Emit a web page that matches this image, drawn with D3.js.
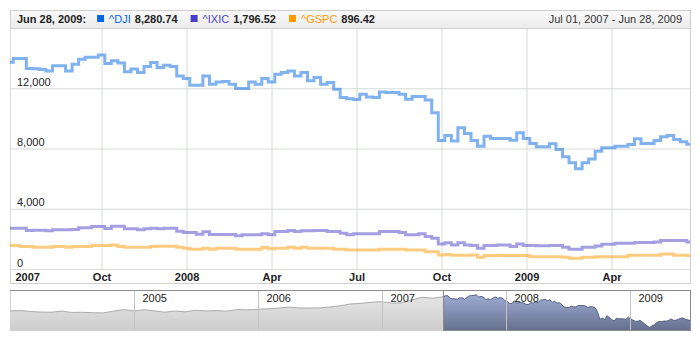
<!DOCTYPE html>
<html><head><meta charset="utf-8">
<script src="https://cdn.jsdelivr.net/npm/d3@7"></script>
<style>
html,body{margin:0;padding:0;background:#fff;}
svg{display:block;font-family:"Liberation Sans",Arial,sans-serif;}
</style></head><body>
<svg id="chart" width="700" height="340"></svg>
<script>
// ---------- data ----------
const startDate = new Date(2007, 6, 1); // first weekly point
const djiValues = [
 13730,13980,13980,13310,13300,13250,13150,13490,13490,13150,
 13600,13930,14050,14050,14200,13650,13820,13670,13090,13270,
 13050,13450,13710,13380,13530,13450,12820,12650,12200,12200,
 12820,12270,12420,12450,12270,11980,11980,12420,12270,12650,
 12420,12930,13050,13150,12820,13050,12490,12710,12270,12380,
 11930,11380,11310,11250,11600,11420,11380,11750,11710,11710,
 11600,11270,11450,11450,11220,10380,8530,8870,8490,9380,
 9000,8530,8150,8820,8670,8670,8670,8550,9050,8670,
 8330,8110,8110,8310,7930,7450,7050,6650,7050,7310,
 7820,8050,8050,8150,8150,8270,8650,8330,8330,8530,
 8780,8870,8600,8450,8280.74];
const ixicValues = [
 2713,2713,2713,2553,2580,2580,2533,2600,2600,2600,
 2620,2733,2733,2820,2820,2690,2840,2840,2667,2667,
 2600,2667,2710,2667,2710,2710,2510,2420,2420,2310,
 2470,2290,2290,2290,2290,2200,2267,2267,2267,2333,
 2267,2490,2490,2553,2490,2533,2533,2553,2553,2490,
 2490,2380,2267,2333,2333,2333,2333,2490,2490,2490,
 2420,2267,2267,2333,2153,2047,1667,1750,1600,1750,
 1600,1553,1380,1553,1553,1600,1600,1500,1667,1553,
 1553,1540,1540,1553,1553,1447,1313,1313,1447,1447,
 1530,1647,1647,1713,1713,1713,1760,1760,1760,1800,
 1887,1887,1887,1887,1796.52];
const gspcValues = [
 1560,1560,1490,1490,1447,1447,1447,1490,1490,1447,
 1490,1490,1490,1560,1560,1560,1600,1490,1450,1450,
 1450,1450,1490,1510,1510,1510,1447,1380,1313,1313,
 1380,1313,1380,1380,1380,1313,1313,1313,1313,1420,
 1340,1380,1380,1447,1380,1447,1380,1380,1380,1380,
 1313,1313,1267,1267,1267,1267,1267,1313,1313,1313,
 1313,1267,1267,1267,1153,1153,933,960,910,910,
 910,933,780,890,890,890,890,890,890,890,
 820,820,820,820,820,780,713,713,780,780,
 820,820,820,820,820,910,910,910,910,910,
 1000,1000,910,910,896.42];
const seriesNames = ["^DJI", "^IXIC", "^GSPC"];
const seriesColors = ["#0066dd", "#4a3fc8", "#ff9900"];
const xTickDates = ["2007-07-01","2007-10-01","2008-01-01","2008-04-01","2008-07-01","2008-10-01","2009-01-01","2009-04-01"];
const xTickLabels = ["2007","Oct","2008","Apr","Jul","Oct","2009","Apr"];
const yTicks = [0, 4000, 8000, 12000];
// navigator history (monthly DJI, Jan 2004 - Jun 2007)
const navHistoryMonths = [
 "2004-01","2004-02","2004-03","2004-04","2004-05","2004-06","2004-07","2004-08","2004-09","2004-10","2004-11","2004-12",
 "2005-01","2005-02","2005-03","2005-04","2005-05","2005-06","2005-07","2005-08","2005-09","2005-10","2005-11","2005-12",
 "2006-01","2006-02","2006-03","2006-04","2006-05","2006-06","2006-07","2006-08","2006-09","2006-10","2006-11","2006-12",
 "2007-01","2007-02","2007-03","2007-04","2007-05","2007-06"];
const navHistoryValues = [
 10488,10583,10358,10226,10188,10435,10140,10174,10080,10027,10428,10783,
 10490,10766,10504,10193,10467,10275,10641,10482,10569,10440,10806,10718,
 10865,10993,11109,11367,11168,11150,11186,11381,11679,12081,12222,12463,
 12622,12268,12354,13063,13628,13409];
const navYearLabels = ["2005","2006","2007","2008","2009"];

// ---------- setup ----------
const svg = d3.select("#chart");
const defs = svg.append("defs");
const L = 10, R = 690, T = 28, B = 269;
const dates = djiValues.map((_, i) => d3.timeWeek.offset(startDate, i));
const x = d3.scaleLinear([0, dates.length - 1], [L, R]);
const y = d3.scaleLinear([0, 16000], [B, T]);
const series = [djiValues, ixicValues, gspcValues];

// frame
svg.append("rect").attr("x", L + .5).attr("y", 10.5).attr("width", R - L).attr("height", 273)
  .attr("fill", "#fff").attr("stroke", "#cfcfcf");

// grid + y axis
const yAxis = d3.axisRight(y).tickValues(yTicks).tickSize(R - L).tickFormat(d3.format(","));
const gy = svg.append("g").attr("transform", `translate(${L},0)`).call(yAxis);
gy.select(".domain").remove();
gy.selectAll("line").attr("stroke", "#d6dbd6");
gy.selectAll("text").attr("x", 7).attr("dy", -3).attr("text-anchor", "start")
  .attr("fill", "#222").attr("font-size", 11).attr("font-family", "Liberation Sans, Arial, sans-serif");

// x axis
const tickIdx = xTickDates.map(s => { const d = d3.isoParse(s); return dates.findIndex(dd => dd >= d); });
const xAxis = d3.axisBottom(x).tickValues(tickIdx).tickFormat((d, i) => xTickLabels[i])
  .tickSize(-(B - T)).tickPadding(4);
const gx = svg.append("g").attr("transform", `translate(0,${B})`).call(xAxis);
gx.select(".domain").remove();
gx.selectAll("line").attr("stroke", "#d6dbd6");
gx.selectAll("text").attr("fill", "#222").attr("font-weight", "bold").attr("font-size", 11)
  .attr("font-family", "Liberation Sans, Arial, sans-serif");
gx.selectAll(".tick").filter((d, i) => i === 0).select("text").attr("text-anchor", "start").attr("x", 5);
svg.append("line").attr("x1", L).attr("x2", R).attr("y1", B + .5).attr("y2", B + .5).attr("stroke", "#d6dbd6");

// lines
defs.append("clipPath").attr("id", "plotclip").append("rect").attr("x", L).attr("y", T).attr("width", R - L).attr("height", B - T + 2);
const lineGen = d3.line().x((d, i) => x(i)).y(d => y(d)).curve(d3.curveStep);
const gLines = svg.append("g").attr("clip-path", "url(#plotclip)");
series.slice().reverse().forEach((vals, k) => {
  const idx = series.length - 1 - k;
  gLines.append("path").attr("d", lineGen(vals)).attr("fill", "none")
    .attr("stroke", seriesColors[idx]).attr("stroke-opacity", 0.5).attr("stroke-width", 3)
    .attr("stroke-linejoin", "miter");
});

// header
const hg = defs.append("linearGradient").attr("id", "hdr").attr("x1", 0).attr("x2", 0).attr("y1", 0).attr("y2", 1);
hg.append("stop").attr("offset", 0).attr("stop-color", "#fafafa");
hg.append("stop").attr("offset", 1).attr("stop-color", "#ebebeb");
svg.append("rect").attr("x", L + .5).attr("y", 10.5).attr("width", R - L).attr("height", 18)
  .attr("fill", "url(#hdr)").attr("stroke", "#cfcfcf");
const fmtDate = d3.timeFormat("%b %d, %Y");
const fmtVal = d3.format(",.2f");
const last = dates[dates.length - 1];
let cx = 17;
const hy = 23;
const t0 = svg.append("text").attr("x", cx).attr("y", hy).attr("font-size", 11).attr("font-weight", "bold")
  .attr("fill", "#222").text(fmtDate(last) + ":");
cx += t0.node().getComputedTextLength() + 11;
series.forEach((vals, i) => {
  svg.append("rect").attr("x", cx).attr("y", 15).attr("width", 7).attr("height", 7).attr("fill", seriesColors[i]);
  cx += 12;
  const n = svg.append("text").attr("x", cx).attr("y", hy).attr("font-size", 11).attr("fill", seriesColors[i]).text(seriesNames[i]);
  cx += n.node().getComputedTextLength() + 4;
  const v = svg.append("text").attr("x", cx).attr("y", hy).attr("font-size", 11).attr("font-weight", "bold")
    .attr("fill", "#222").text(fmtVal(vals[vals.length - 1]));
  cx += v.node().getComputedTextLength() + 13;
});
svg.append("text").attr("x", 682).attr("y", hy).attr("text-anchor", "end").attr("font-size", 11)
  .attr("fill", "#333").text(fmtDate(dates[0]) + " - " + fmtDate(last));

// ---------- navigator ----------
const NT = 290, NB = 330;
const navX = d3.scaleTime([new Date(2004, 0, 1), last], [L, R]);
const navY = d3.scaleLinear([6100, 15300], [NB, NT]);
const navData = navHistoryMonths.map((m, i) => ({ d: d3.timeParse("%Y-%m")(m), v: navHistoryValues[i] }))
  .concat(dates.map((d, i) => ({ d, v: djiValues[i] })));
const selX = navX(dates[0]);
svg.append("rect").attr("x", L + .5).attr("y", NT + .5).attr("width", R - L).attr("height", NB - NT)
  .attr("fill", "#fff").attr("stroke", "#d0d0d0");
const ug = defs.append("linearGradient").attr("id", "ungr").attr("x1", 0).attr("x2", 0).attr("y1", 0).attr("y2", 1);
ug.append("stop").attr("offset", 0).attr("stop-color", "#e6e6e6");
ug.append("stop").attr("offset", 1).attr("stop-color", "#cdcdcd");
const sg = defs.append("linearGradient").attr("id", "selgr").attr("x1", 0).attr("x2", 0).attr("y1", 0).attr("y2", 1);
sg.append("stop").attr("offset", 0).attr("stop-color", "#9eabd2");
sg.append("stop").attr("offset", 1).attr("stop-color", "#667190");
defs.append("clipPath").attr("id", "unclip").append("rect").attr("x", L).attr("y", NT).attr("width", selX - L).attr("height", NB - NT);
defs.append("clipPath").attr("id", "selclip").append("rect").attr("x", selX).attr("y", NT).attr("width", R - selX).attr("height", NB - NT);
const area = d3.area().x(d => navX(d.d)).y0(NB).y1(d => navY(d.v));
const nline = d3.line().x(d => navX(d.d)).y(d => navY(d.v));
const gu = svg.append("g").attr("clip-path", "url(#unclip)");
gu.append("path").attr("d", area(navData)).attr("fill", "url(#ungr)");
gu.append("path").attr("d", nline(navData)).attr("fill", "none").attr("stroke", "#ababab").attr("stroke-width", 1);
const gs = svg.append("g").attr("clip-path", "url(#selclip)");
gs.append("path").attr("d", area(navData)).attr("fill", "url(#selgr)");
gs.append("path").attr("d", nline(navData)).attr("fill", "none").attr("stroke", "#555f80").attr("stroke-width", 1);
navYearLabels.forEach(lbl => {
  const xx = Math.round(navX(new Date(+lbl, 0, 1))) + .5;
  svg.append("line").attr("x1", xx).attr("x2", xx).attr("y1", NT).attr("y2", NB).attr("stroke", "#c4c4c4");
  svg.append("text").attr("x", xx + 8).attr("y", NT + 12).attr("font-size", 11).attr("fill", "#222").text(lbl);
});
svg.append("line").attr("x1", L).attr("x2", R + 1).attr("y1", NT + .5).attr("y2", NT + .5).attr("stroke", "#8f8f8f");
svg.append("rect").attr("x", Math.round(selX) + .5).attr("y", NT + .5).attr("width", R - Math.round(selX)).attr("height", NB - NT)
  .attr("fill", "none").attr("stroke", "#8a8a8a");
</script>
</body></html>
